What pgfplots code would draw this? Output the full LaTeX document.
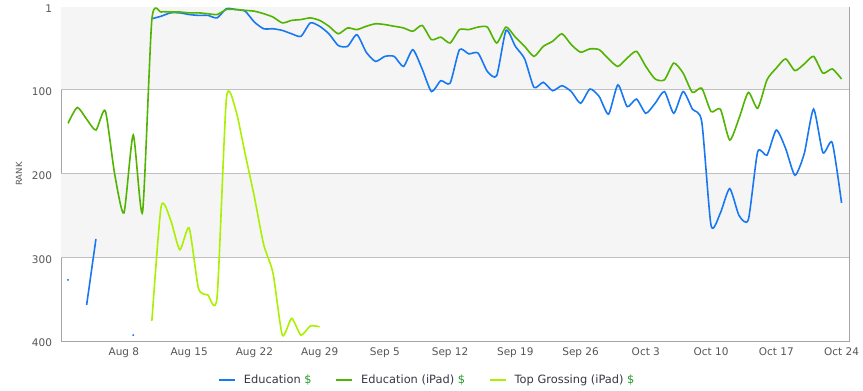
\documentclass[border=0pt]{standalone}
\usepackage{pgfplots}
\pgfplotsset{compat=1.18}
\usepackage{fontspec}
\setmainfont{DejaVu Sans}
\definecolor{cblue}{RGB}{24,120,242}
\definecolor{cgreen}{RGB}{80,180,0}
\definecolor{clime}{RGB}{170,240,0}
\definecolor{dgreen}{RGB}{40,150,40}
\definecolor{band}{RGB}{245,245,245}
\definecolor{gridgray}{RGB}{192,192,192}
\definecolor{axgray}{RGB}{165,165,165}
\definecolor{labgray}{RGB}{85,85,85}
\definecolor{legtext}{RGB}{55,55,70}
\begin{document}
\begin{tikzpicture}
\path[use as bounding box] (-61pt,-50pt) rectangle (802pt,341pt);
\begin{axis}[
  at={(0pt,0pt)}, anchor=south west,
  scale only axis, width=788pt, height=334pt,
  xmin=0.25, xmax=84.8, ymin=1, ymax=400, y dir=reverse,
  ytick={1,100,200,300,400},
  xtick={7,14,21,28,35,42,49,56,63,70,77,84},
  xticklabels={Aug 8,Aug 15,Aug 22,Aug 29,Sep 5,Sep 12,Sep 19,Sep 26,Oct 3,Oct 10,Oct 17,Oct 24},
  /pgf/number format/assume math mode=true,
  major tick length=0pt,
  axis line style={draw=axgray, line width=0.8pt},
  xticklabel style={font=\fontsize{10.5}{12}\selectfont, text=labgray, yshift=-3.5pt},
  yticklabel style={font=\fontsize{10.5}{12}\selectfont, text=labgray, xshift=-5.5pt, yshift=-2pt},
  ylabel={RANK},
  ylabel style={font=\fontsize{8.5}{10}\selectfont, text=labgray, at={(axis description cs:-0.0533,0.5)}, anchor=center},
  unbounded coords=jump,
  legend columns=3,
  legend style={at={(0.465,-0.117)}, anchor=center, draw=none, fill=none,
    font=\fontsize{11.4}{13}\selectfont, text=legtext,
    /tikz/every odd column/.append style={column sep=6pt},
    /tikz/every even column/.append style={column sep=22pt}},
  legend image code/.code={\draw[#1] (0pt,0pt) -- (16pt,0pt);},
]
\fill[band] (axis cs:0.25,1) rectangle (axis cs:84.8,100);
\fill[band] (axis cs:0.25,200) rectangle (axis cs:84.8,300);
\draw[gridgray, line width=0.8pt] (axis cs:0.25,100) -- (axis cs:84.8,100);
\draw[gridgray, line width=0.8pt] (axis cs:0.25,200) -- (axis cs:84.8,200);
\draw[gridgray, line width=0.8pt] (axis cs:0.25,300) -- (axis cs:84.8,300);

\addplot[cblue, line width=1.6pt, smooth, tension=0.38, no marks] coordinates {
(3,357) (4,278) (5,nan)
(10,15) (11,12) (12,8) (13,8) (14,10) (15,11) (16,11) (17,14) (18,3) (19,4)
(20,6) (21,19) (22,27) (23,27) (24,29) (25,33) (26,36) (27,20) (28,24) (29,33)
(30,47) (31,48) (32,34) (33,55) (34,66) (35,60) (36,60) (37,72) (38,52) (39,75)
(40,102) (41,89) (42,92) (43,52) (44,57) (45,56) (46,78) (47,83) (48,29) (49,48)
(50,63) (51,97) (52,91) (53,101) (54,95) (55,102) (56,116) (57,99) (58,108) (59,129)
(60,94) (61,120) (62,111) (63,128) (64,116) (65,102) (66,128) (67,102) (68,123) (69,138)
(70,262) (71,247) (72,218) (73,250) (74,255) (75,174) (76,178) (77,148) (78,170) (79,202)
(80,176) (81,123) (82,175) (83,163) (84,235)
};
\addlegendentry{Education \textcolor{dgreen}{\$}}

\addplot[cgreen, line width=1.6pt, smooth, tension=0.38, no marks] coordinates {
(1,140) (2,121) (3,135) (4,148) (5,125) (6,200) (7,247) (8,154) (9,246)
(10,16) (11,7) (12,7) (13,7) (14,8) (15,8) (16,9) (17,10) (18,4) (19,4)
(20,5) (21,6) (22,9) (23,13) (24,20) (25,17) (26,16) (27,14) (28,17) (29,24)
(30,33) (31,26) (32,28) (33,24) (34,21) (35,22) (36,24) (37,26) (38,30) (39,23)
(40,40) (41,37) (42,44) (43,28) (44,28) (45,25) (46,25) (47,44) (48,25) (49,37)
(50,48) (51,60) (52,48) (53,42) (54,33) (55,46) (56,55) (57,51) (58,52) (59,63)
(60,72) (61,62) (62,54) (63,72) (64,87) (65,88) (66,68) (67,80) (68,103) (69,98)
(70,126) (71,123) (72,160) (73,134) (74,103) (75,122) (76,88) (77,74) (78,63) (79,77)
(80,69) (81,60) (82,80) (83,75) (84,87)
};
\addlegendentry{Education (iPad) \textcolor{dgreen}{\$}}

\addplot[clime, line width=1.6pt, smooth, tension=0.38, no marks] coordinates {
(10,376) (11,239) (12,255) (13,291) (14,265) (15,337) (16,345) (17,347) (18,110) (19,124)
(20,176) (21,228) (22,285) (23,319) (24,393) (25,373) (26,393) (27,382) (28,383)
};
\addlegendentry{Top Grossing (iPad) \textcolor{dgreen}{\$}}

\addplot[only marks, mark=*, mark size=0.8pt, cblue, forget plot] coordinates {(1,327) (8,393)};
\end{axis}
\end{tikzpicture}
\end{document}
